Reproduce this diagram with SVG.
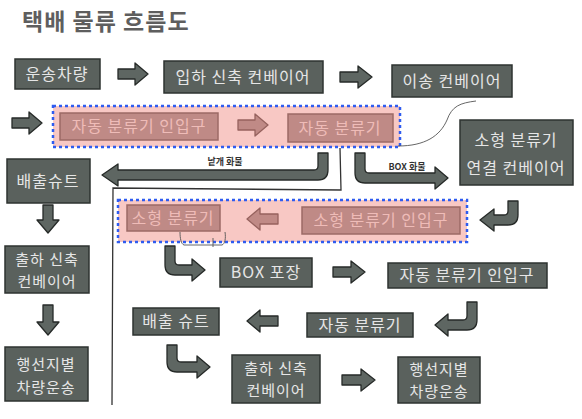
<svg xmlns="http://www.w3.org/2000/svg" width="582" height="419" viewBox="0 0 582 419">
<style>
  .bg{fill:#ffffff}
  .box{fill:#5a615d;stroke:#2e3330;stroke-width:1.5}
  .pbox{fill:#bf8a86;stroke:#9c6a66;stroke-width:1.5}
  .grp{fill:#f8c8c4;stroke:#2f5cf0;stroke-width:2.5;stroke-dasharray:3 3}
  .t{font-family:"Noto Sans CJK KR","Noto Sans",sans-serif;font-size:16px;fill:#e6e6e6;text-anchor:middle;letter-spacing:1px}
  .t2{font-family:"Noto Sans CJK KR","Noto Sans",sans-serif;font-size:15px;fill:#e6e6e6;text-anchor:middle;letter-spacing:1px}
  .pt{font-family:"Noto Sans CJK KR","Noto Sans",sans-serif;font-size:16px;fill:#efbcb8;text-anchor:middle;letter-spacing:1px}
  .lbl{font-family:"Noto Sans CJK KR","Noto Sans",sans-serif;font-size:9px;font-weight:bold;fill:#333;text-anchor:middle}
  .title{font-family:"Noto Sans CJK KR","Noto Sans",sans-serif;font-size:23px;font-weight:bold;fill:#5e5e5e;letter-spacing:1px}
  .arr{fill:#5e6662;stroke:#262a28;stroke-width:1.3;stroke-linejoin:round}
  .parr{fill:#c08a86;stroke:#96625e;stroke-width:1.3;stroke-linejoin:round}
  .pen{fill:none;stroke:#555;stroke-width:0.9}
  .div{fill:none;stroke:#333;stroke-width:1.3}
</style>
<rect class="bg" x="0" y="0" width="582" height="419"/>
<text class="title" x="22" y="30">택배 물류 흐름도</text>

<g id="group1"><rect class="grp" x="53" y="106" width="347" height="41"/></g>
<g id="group2"><rect class="grp" x="118" y="200" width="349" height="42"/></g>

<g id="connectors">
  <path class="div" d="M340,148 L341,190 L113,188 L112,405"/>
  <path class="pen" d="M398,146 C425,146 440,136 447,120 C452,106 460,103 476,101"/>
  <path class="pen" d="M180,232 C180,238 181,244 184,245 L222,245 C225,244 226,238 225,232 M213,238 L213,247"/>
  <path class="arr" d="M118,69 L135,69 L135,63 L148,74 L135,85 L135,79 L118,79 Z"/>
  <path class="arr" d="M340,72 L358,72 L358,66 L372,77 L358,88 L358,82 L340,82 Z"/>
  <path class="arr" d="M12,118 L29,118 L29,112 L42,123 L29,134 L29,128 L12,128 Z"/>
  <path class="parr" d="M238,120 L255,120 L255,114 L268,125 L255,136 L255,130 L238,130 Z"/>
  <path class="parr" d="M278,214 L260,214 L260,208 L247,219 L260,230 L260,224 L278,224 Z"/>
  <path class="arr" d="M43,205 L43,220 L37,220 L48,233 L59,220 L53,220 L53,205 Z"/>
  <path class="arr" d="M43,305 L43,322 L37,322 L48,335 L59,322 L53,322 L53,305 Z"/>
  <path class="arr" d="M333,267 L351,267 L351,261 L365,272 L351,283 L351,277 L333,277 Z"/>
  <path class="arr" d="M278,316 L260,316 L260,310 L247,321 L260,332 L260,326 L278,326 Z"/>
  <path class="arr" d="M342,375 L361,375 L361,369 L375,380 L361,391 L361,385 L342,385 Z"/>
  <path class="arr" d="M318,153 L318,166 Q318,170 314,170 L118,170 L118,164 L102,175 L118,186 L118,180 L318,180 Q328,180 328,170 L328,153 Z"/>
  <path class="arr" d="M355,153 L355,173 Q355,183 365,183 L435,183 L435,189 L448,178 L435,167 L435,173 L369,173 Q365,173 365,169 L365,153 Z"/>
  <path class="arr" d="M508,201 L508,211 Q508,215 504,215 L494,215 L494,209 L480,220 L494,231 L494,225 L508,225 Q518,225 518,215 L518,201 Z"/>
  <path class="arr" d="M165,246 L165,265 Q165,275 175,275 L192,275 L192,281 L205,270 L192,259 L192,265 L179,265 Q175,265 175,261 L175,246 Z"/>
  <path class="arr" d="M467,302 L467,316 Q467,320 463,320 L448,320 L448,314 L435,325 L448,336 L448,330 L467,330 Q477,330 477,320 L477,302 Z"/>
  <path class="arr" d="M167,345 L167,362 Q167,372 177,372 L197,372 L197,378 L210,367 L197,356 L197,362 L181,362 Q177,362 177,358 L177,345 Z"/>
  <text class="lbl" x="225" y="165">낱개 화물</text>
  <text class="lbl" x="407" y="170">BOX 화물</text>
</g>

<g id="n-unsong"><rect class="box" x="15" y="59" width="85" height="30"/><text class="t" x="57" y="80">운송차량</text></g>
<g id="n-ipha"><rect class="box" x="164" y="61" width="159" height="32"/><text class="t" x="243" y="83">입하 신축 컨베이어</text></g>
<g id="n-isong"><rect class="box" x="392" y="65" width="120" height="32"/><text class="t" x="452" y="87">이송 컨베이어</text></g>
<g id="n-auto-in"><rect class="pbox" x="60" y="113" width="158" height="27"/><text class="pt" x="139" y="132">자동 분류기 인입구</text></g>
<g id="n-auto"><rect class="pbox" x="288" y="114" width="105" height="28"/><text class="pt" x="340" y="134">자동 분류기</text></g>
<g id="n-small-conv"><rect class="box" x="460" y="120" width="113" height="65"/><text class="t" x="516" y="146">소형 분류기</text><text class="t" x="516" y="174">연결 컨베이어</text></g>
<g id="n-chute1"><rect class="box" x="7" y="159" width="83" height="44"/><text class="t" x="48" y="187">배출슈트</text></g>
<g id="n-small"><rect class="pbox" x="127" y="205" width="93" height="26"/><text class="pt" x="173" y="224">소형 분류기</text></g>
<g id="n-small-in"><rect class="pbox" x="302" y="207" width="158" height="27"/><text class="pt" x="381" y="226">소형 분류기 인입구</text></g>
<g id="n-out1"><rect class="box" x="5" y="246" width="84" height="47"/><text class="t2" x="47" y="265">출하 신축</text><text class="t2" x="47" y="287">컨베이어</text></g>
<g id="n-dest1"><rect class="box" x="5" y="347" width="83" height="54"/><text class="t2" x="46" y="370">행선지별</text><text class="t2" x="46" y="393">차량운송</text></g>
<g id="n-box"><rect class="box" x="220" y="258" width="92" height="29"/><text class="t" x="266" y="278">BOX 포장</text></g>
<g id="n-auto-in2"><rect class="box" x="388" y="263" width="159" height="25"/><text class="t" x="467" y="281">자동 분류기 인입구</text></g>
<g id="n-auto2"><rect class="box" x="307" y="313" width="106" height="24"/><text class="t" x="360" y="331">자동 분류기</text></g>
<g id="n-chute2"><rect class="box" x="133" y="308" width="86" height="27"/><text class="t" x="176" y="327">배출 슈트</text></g>
<g id="n-out2"><rect class="box" x="232" y="355" width="88" height="48"/><text class="t2" x="276" y="374">출하 신축</text><text class="t2" x="276" y="396">컨베이어</text></g>
<g id="n-dest2"><rect class="box" x="398" y="357" width="82" height="46"/><text class="t2" x="439" y="375">행선지별</text><text class="t2" x="439" y="397">차량운송</text></g>
</svg>
